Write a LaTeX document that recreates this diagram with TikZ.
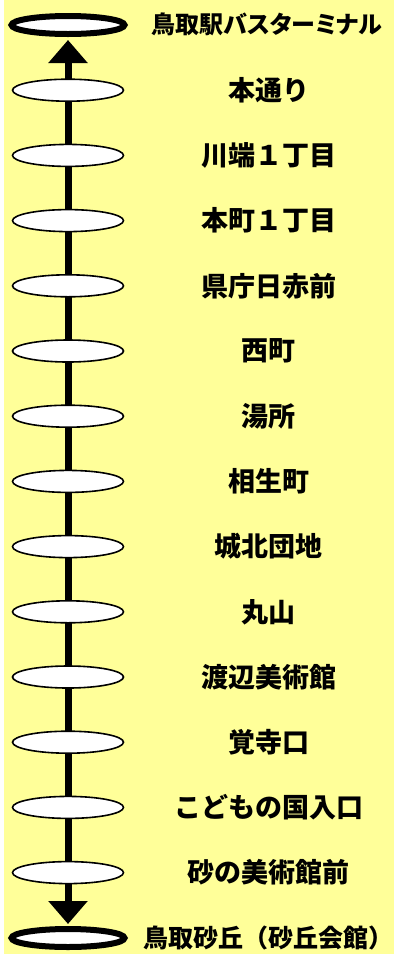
\documentclass[tikz,border=0pt]{standalone}
\usepackage{fontspec}
\newfontfamily\jpfont{Noto Sans CJK JP}
\newfontfamily\jpfontp{Noto Sans CJK JP}[RawFeature=+palt]
\usetikzlibrary{shapes.geometric,arrows.meta}
\definecolor{bgyellow}{HTML}{FFFF99}
\begin{document}
\begin{tikzpicture}[x=1pt,y=-1pt,
  stopnode/.style={ellipse, draw, fill=white, line width=1.6pt, minimum width=111pt, minimum height=22pt, inner sep=0pt},
  termnode/.style={ellipse, draw, fill=white, line width=6pt, minimum width=113pt, minimum height=18pt, inner sep=0pt},
  lbl/.style={font=\jpfont\bfseries\fontsize{27}{29}\selectfont, inner sep=0pt},
  termlbl/.style={font=\jpfontp\bfseries\fontsize{24}{26}\selectfont, inner sep=0pt},
  bigtip/.tip={Triangle[width=38pt,length=23pt]}]
\useasboundingbox (0,0) rectangle (394,954);
\fill[bgyellow] (4,0) rectangle (394,954);
\node[termnode] (st0) at (68,25){};
\node[termnode] (st14) at (68,938){};
\draw[line width=7pt, bigtip-bigtip, shorten <=3pt, shorten >=2pt](st0.south) -- (st14.north);
\node[stopnode] (st1) at (68,90.2){};
\node[stopnode] (st2) at (68,155.4){};
\node[stopnode] (st3) at (68,220.6){};
\node[stopnode] (st4) at (68,285.8){};
\node[stopnode] (st5) at (68,351){};
\node[stopnode] (st6) at (68,416.2){};
\node[stopnode] (st7) at (68,481.4){};
\node[stopnode] (st8) at (68,546.6){};
\node[stopnode] (st9) at (68,611.8){};
\node[stopnode] (st10) at (68,677){};
\node[stopnode] (st11) at (68,742.2){};
\node[stopnode] (st12) at (68,807.4){};
\node[stopnode] (st13) at (68,872.6){};
\node[termlbl] (nm0) at (267,24){鳥取駅バスターミナル};
\node[lbl] (nm1) at (268.5,90.2){本通り};
\node[lbl] (nm2) at (268.5,155.4){川端１丁目};
\node[lbl] (nm3) at (268.5,220.6){本町１丁目};
\node[lbl] (nm4) at (268.5,285.8){県庁日赤前};
\node[lbl] (nm5) at (268.5,351){西町};
\node[lbl] (nm6) at (268.5,416.2){湯所};
\node[lbl] (nm7) at (268.5,481.4){相生町};
\node[lbl] (nm8) at (268.5,546.6){城北団地};
\node[lbl] (nm9) at (268.5,611.8){丸山};
\node[lbl] (nm10) at (268.5,677){渡辺美術館};
\node[lbl] (nm11) at (268.5,742.2){覚寺口};
\node[lbl] (nm12) at (268.5,807.4){こどもの国入口};
\node[lbl] (nm13) at (268.5,872.6){砂の美術館前};
\node[termlbl, font=\jpfont\bfseries\fontsize{25}{27}\selectfont] (nm14) at (268.5,937.5){鳥取砂丘（砂丘会館）};
\end{tikzpicture}
\end{document}
